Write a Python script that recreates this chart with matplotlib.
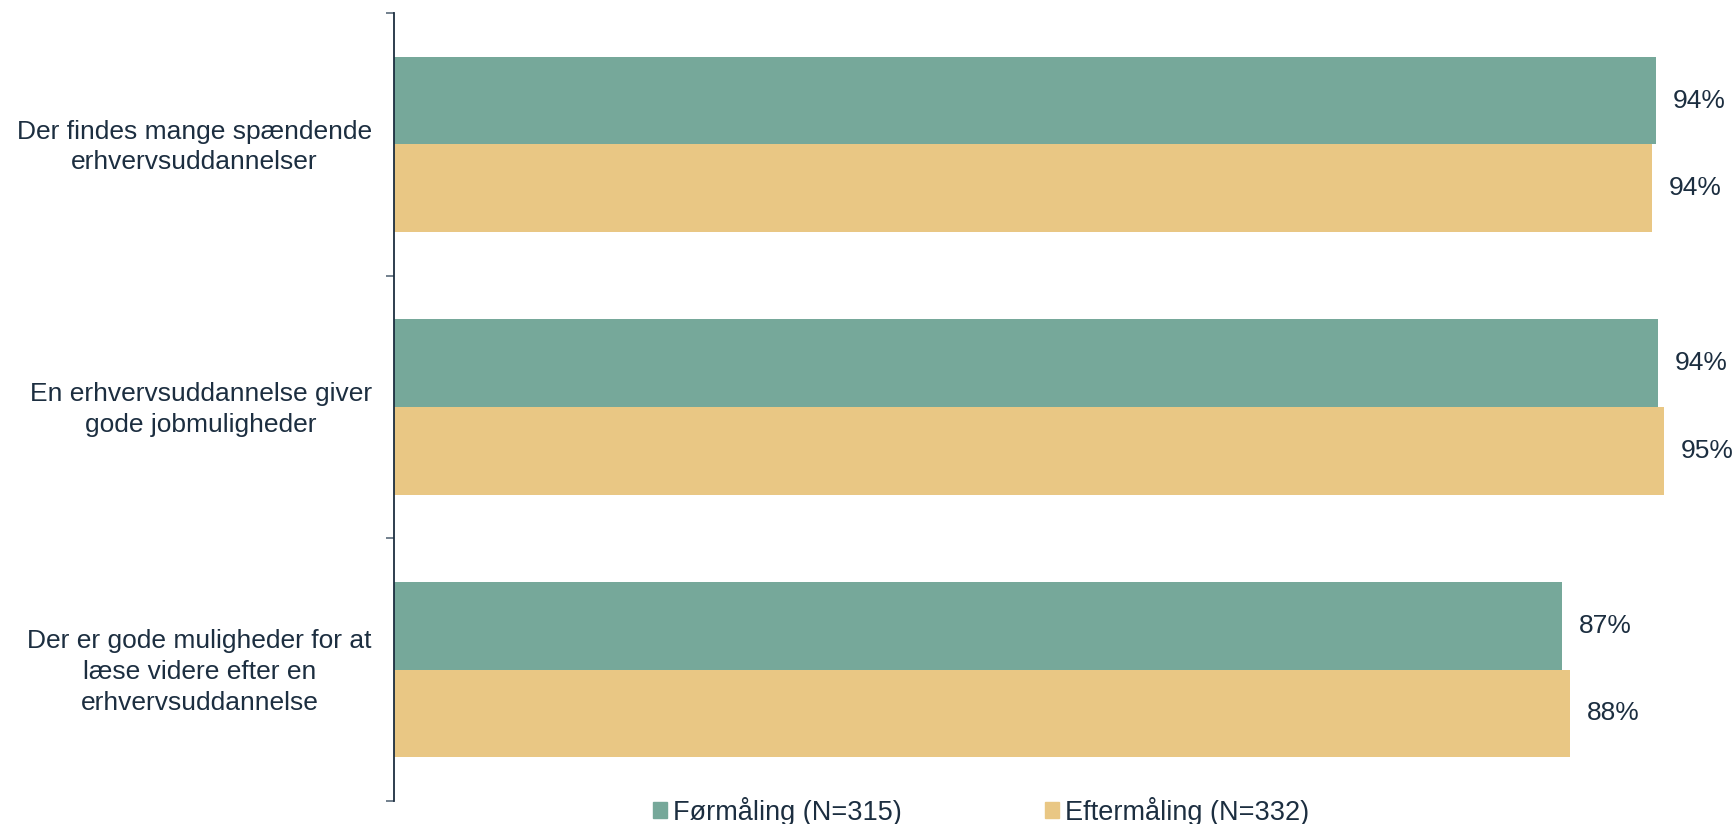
import numpy as np
import matplotlib
matplotlib.use("Agg")
import matplotlib.pyplot as plt
from matplotlib.patches import Patch

# survey statements and shares agreeing (before / after)
categories = [
    "Der findes mange spændende\nerhvervsuddannelser",
    "En erhvervsuddannelse giver\ngode jobmuligheder",
    "Der er gode muligheder for at\nlæse videre efter en\nerhvervsuddannelse",
]
foer = [0.940, 0.941, 0.870]
efter = [0.937, 0.9455, 0.876]
series_names = ["Førmåling (N=315)", "Eftermåling (N=332)"]

GREEN = "#76a89a"
YELLOW = "#e9c784"
TEXT = "#1c2e40"

plt.rcParams["font.family"] = ["Liberation Sans", "DejaVu Sans"]
FS = 19

fig = plt.figure(figsize=(17.34, 8.24), dpi=100)
ax = fig.add_axes([394 / 1734, 1 - 801 / 824, (1737 - 394) / 1734, 788 / 824])

y = np.arange(len(categories))
h = 1 / 3
ax.barh(y - h / 2, foer, height=h, color=GREEN, label=series_names[0])
ax.barh(y + h / 2, efter, height=h, color=YELLOW, label=series_names[1])

for i in range(len(categories)):
    for val, off in ((foer[i], -h / 2), (efter[i], h / 2)):
        ax.annotate(f"{val * 100:.0f}%", xy=(val, y[i] + off), xytext=(12, 0),
                    textcoords="offset points", va="center", ha="left",
                    fontsize=FS, color=TEXT)

ax.set_xlim(0, 1.0)
ax.set_ylim(len(categories) - 0.5, -0.5)
ax.set_xticks([])
# labels sit a touch below the group centre in the original
ax.set_yticks(y + 0.01)
ax.set_yticklabels(categories, fontsize=FS, color=TEXT, multialignment="center",
                   linespacing=1.36, va="center")
ax.tick_params(axis="y", which="major", length=0, pad=16)
ax.set_yticks(np.arange(-0.5, len(categories)), minor=True)
ax.tick_params(axis="y", which="minor", length=6, width=1.2, color="#5a6b7a")

for s in ("top", "right", "bottom"):
    ax.spines[s].set_visible(False)
ax.spines["left"].set_color(TEXT)
ax.spines["left"].set_linewidth(1.3)

handles = [Patch(color=GREEN), Patch(color=YELLOW)]
fig.legend(handles, series_names, loc="center", bbox_to_anchor=(981 / 1734, 1 - 811 / 824),
           ncol=2, frameon=False, fontsize=19.5, handlelength=0.52, handleheight=0.52,
           handletextpad=0.22, columnspacing=5.3, labelcolor=TEXT, borderpad=0, borderaxespad=0)

fig.savefig("out.png", dpi=100)
